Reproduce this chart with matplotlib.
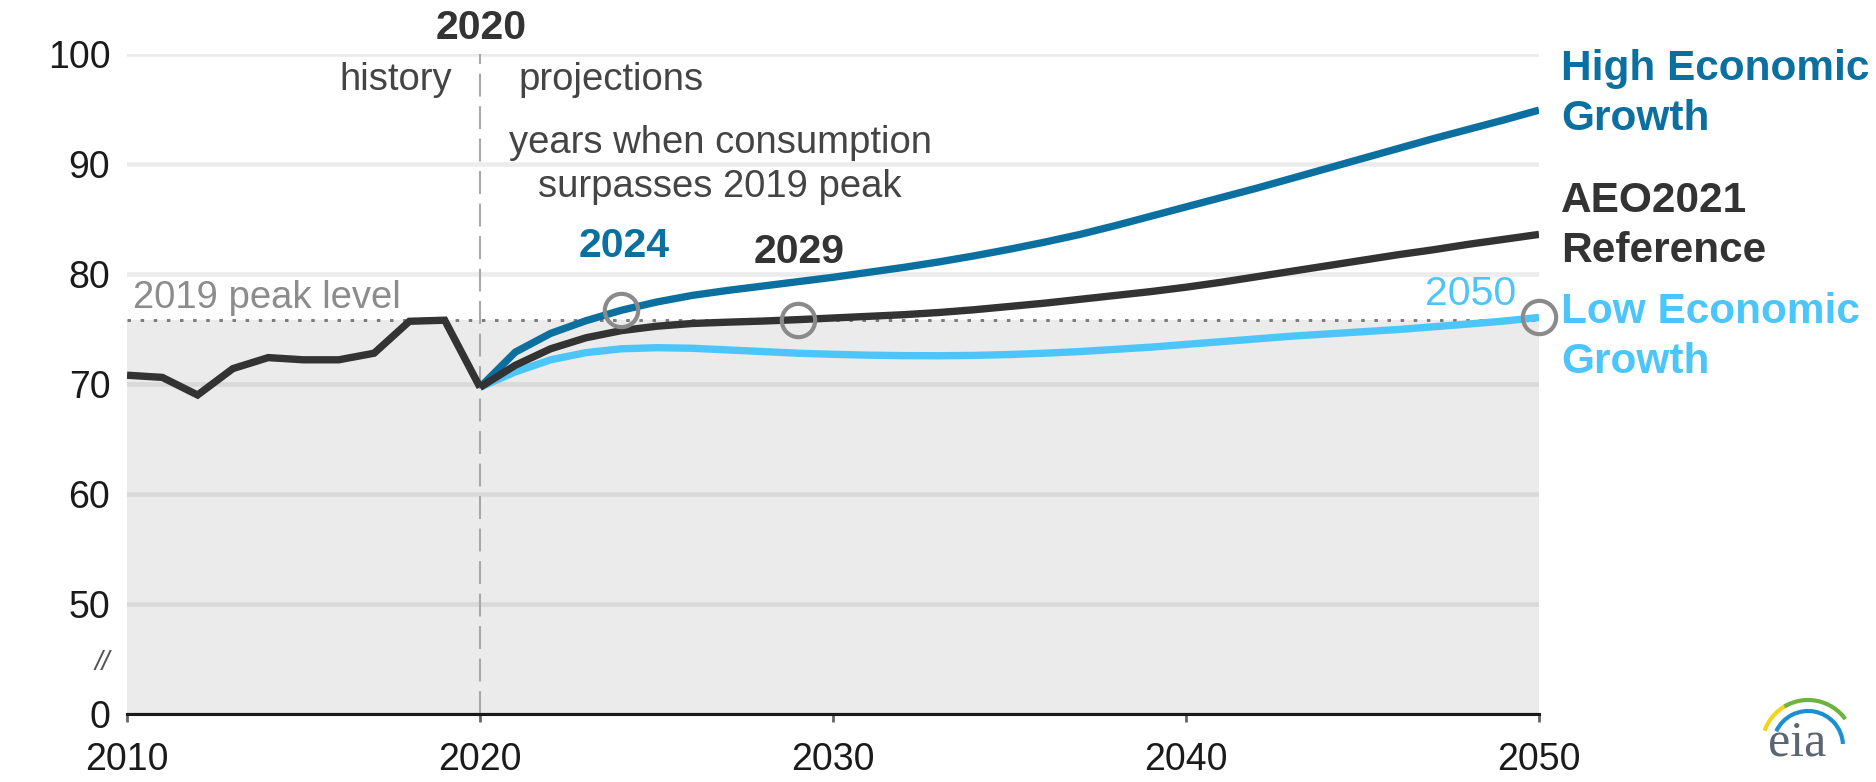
import numpy as np
import matplotlib
matplotlib.use("Agg")
import matplotlib.pyplot as plt
from matplotlib.patches import Arc

# ---------------- data ----------------
hist_years = list(range(2010, 2021))
hist_values = [70.8, 70.6, 69.0, 71.4, 72.4, 72.2, 72.2, 72.8, 75.7, 75.8, 69.7]

proj_years = list(range(2020, 2051))
high_values = [69.7, 72.9, 74.6, 75.75, 76.7, 77.45, 78.05, 78.5, 78.9, 79.3,
               79.7, 80.15, 80.6, 81.1, 81.65, 82.25, 82.9, 83.6, 84.4, 85.25,
               86.1, 86.95, 87.8, 88.7, 89.6, 90.5, 91.4, 92.3, 93.15, 94.0, 94.9]
ref_values = [69.7, 71.7, 73.2, 74.2, 74.85, 75.25, 75.5, 75.62, 75.72, 75.85,
              76.0, 76.15, 76.3, 76.5, 76.75, 77.05, 77.35, 77.7, 78.05, 78.4,
              78.8, 79.25, 79.75, 80.25, 80.75, 81.25, 81.75, 82.2, 82.7, 83.15, 83.6]
low_values = [69.7, 71.1, 72.2, 72.85, 73.2, 73.3, 73.25, 73.1, 72.95, 72.8,
              72.7, 72.62, 72.58, 72.57, 72.6, 72.68, 72.8, 72.95, 73.15, 73.35,
              73.6, 73.85, 74.1, 74.35, 74.55, 74.75, 74.95, 75.2, 75.45, 75.72, 76.05]

crossing_years = [2024, 2029, 2050]          # high, reference, low
crossing_labels = ["2024", "2029", "2050"]

x_ticks = [2010, 2020, 2030, 2040, 2050]
y_tick_labels = ["0", "//", "50", "60", "70", "80", "90", "100"]
# broken axis: "0" drawn where 40 would be, "//" marks the break
y_tick_pos = [40, 44.9, 50, 60, 70, 80, 90, 100]

series_names = ["High Economic\nGrowth", "AEO2021\nReference", "Low Economic\nGrowth"]

# ---------------- style ----------------
C_HIGH = "#0b70a0"
C_REF = "#333333"
C_LOW = "#4cc6fa"
FONT = "Liberation Sans"
plt.rcParams["font.family"] = [FONT, "DejaVu Sans"]

W, H = 1876, 782
fig = plt.figure(figsize=(W / 100, H / 100), dpi=100)
ax = fig.add_axes([127 / W, (H - 714) / H, (1539 - 127) / W, (714 - 54) / H])
ax.set_xlim(2010, 2050)
ax.set_ylim(40, 100)

peak = hist_values[hist_years.index(2019)]

# gray area below peak level
ax.axhspan(40, peak, color="#ebebeb", lw=0, zorder=0)
# gridlines
for v in [40, 50, 60, 70, 80, 90, 100]:
    ax.axhline(v, color="black", alpha=0.075, lw=3.4, zorder=1)
# 2019 peak dotted line
ax.axhline(peak, color="#7a7a7a", lw=2.1, linestyle=(0, (1.2, 3.3)),
           dash_capstyle="butt", zorder=2)
# history/projection divider
ax.axvline(2020, color="#a8a8a8", lw=1.5, linestyle=(0, (11, 4.6)), zorder=2)

lw = 5.3
ax.plot(proj_years, low_values, color=C_LOW, lw=lw, zorder=3,
        solid_capstyle="butt", solid_joinstyle="round")
ax.plot(proj_years, high_values, color=C_HIGH, lw=lw, zorder=3,
        solid_capstyle="butt", solid_joinstyle="round")
ax.plot(proj_years, ref_values, color=C_REF, lw=lw, zorder=4,
        solid_capstyle="butt", solid_joinstyle="round")
ax.plot(hist_years, hist_values, color=C_REF, lw=lw, zorder=4,
        solid_joinstyle="miter", solid_capstyle="butt")

# crossing circles
series_list = [high_values, ref_values, low_values]
cx = []
cy = []
for yr, vals in zip(crossing_years, series_list):
    cx.append(yr)
    cy.append(float(np.interp(yr, proj_years, vals)))
ax.plot(cx, cy, "o", ms=24, mfc="none", mec="#8a8a8a", mew=3.0, zorder=6,
        clip_on=False)

# axes styling
for s in ["left", "top", "right"]:
    ax.spines[s].set_visible(False)
ax.spines["bottom"].set_color("#1a1a1a")
ax.spines["bottom"].set_linewidth(2.2)
ax.spines["bottom"].set_zorder(5)
ax.set_xticks(x_ticks)
ax.set_xticklabels([str(x) for x in x_ticks])
ax.set_yticks(y_tick_pos)
ax.set_yticklabels(y_tick_labels)
ax.tick_params(axis="x", length=6, width=2, color="#666666", pad=14,
               labelsize=27, labelcolor="#1a1a1a")
ax.tick_params(axis="y", length=0, pad=12, labelsize=27, labelcolor="#1a1a1a")
for lab in ax.get_yticklabels():
    if lab.get_text() == "//":
        lab.set_color("#555555")
        lab.set_fontstyle("italic")
        lab.set_fontsize(20)


def ptext(x, y, s, **kw):
    fig.text(x / W, 1 - y / H, s, **kw)


# annotations (pixel positions)
ptext(481, 28, "2020", ha="center", va="center", fontsize=29.5,
      fontweight="bold", color="#333333")
ptext(452, 90, "history", ha="right", va="baseline", fontsize=27.5, color="#444444")
ptext(518, 90, "projections", ha="left", va="baseline", fontsize=27.5, color="#444444")
ptext(720, 153, "years when consumption", ha="center", va="baseline",
      fontsize=27.5, color="#444444")
ptext(720, 197, "surpasses 2019 peak", ha="center", va="baseline",
      fontsize=27.5, color="#444444")
ptext(133, 308, "2019 peak level", ha="left", va="baseline", fontsize=27.5,
      color="#8c8c8c")
ptext(624, 257, crossing_labels[0], ha="center", va="baseline", fontsize=29.5,
      fontweight="bold", color=C_HIGH)
ptext(799, 263, crossing_labels[1], ha="center", va="baseline", fontsize=29.5,
      fontweight="bold", color=C_REF)
ptext(1471, 305, crossing_labels[2], ha="center", va="baseline", fontsize=29.5,
      color=C_LOW)

# right-hand series labels
label_specs = [(series_names[0], C_HIGH, 80), (series_names[1], C_REF, 212),
               (series_names[2], C_LOW, 323)]
for name, col, base in label_specs:
    for i, line in enumerate(name.split("\n")):
        ptext(1561, base + i * 50, line, ha="left", va="baseline",
              fontsize=30.5, fontweight="bold", color=col)

# eia logo (approximate)
def parc(cxp, cyp, r, t1, t2, col, lwp):
    a = Arc((cxp / W, 1 - cyp / H), 2 * r / W, 2 * r / H, theta1=t1, theta2=t2,
            transform=fig.transFigure, color=col, lw=lwp)
    fig.add_artist(a)

parc(1808, 746, 46, 102, 140, "#f7d417", 3.0)
parc(1808, 746, 46, 60, 104, "#6db33f", 3.0)
parc(1808, 746, 35, 8, 132, "#1b8fd2", 3.0)
ptext(1797, 755, "eia", ha="center", va="baseline", fontsize=36,
      family=["Liberation Serif", "DejaVu Serif"], color="#5b6770")

fig.savefig("out.png", dpi=100, facecolor="white")
